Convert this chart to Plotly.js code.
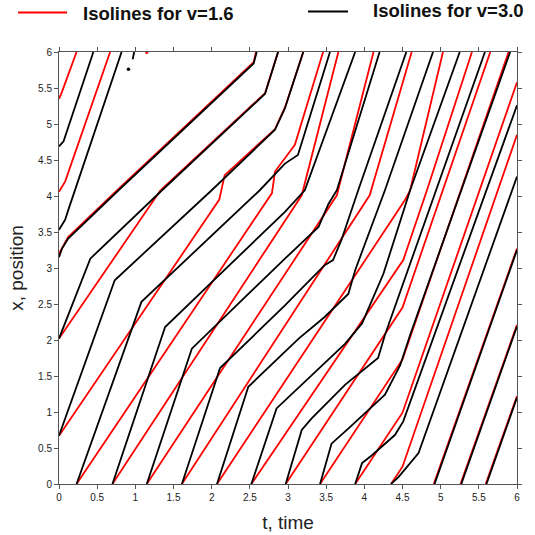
<!DOCTYPE html>
<html>
<head>
<meta charset="utf-8">
<script src="https://cdn.plot.ly/plotly-3.0.1.min.js"></script>
<style>html,body{margin:0;padding:0;background:#fff;}#chart{width:535px;height:535px;}</style>
</head>
<body>
<div id="chart"></div>
<script>
// ---- Legend / axis text ----
const redLabel = "Isolines for v=1.6";
const blackLabel = "Isolines for v=3.0";
const xTitle = "t, time";
const yTitle = "x, position";

// ---- Red isolines (v=1.6): t values and x values ----
const r1t = [0, 0.04, 0.23],                 r1x = [5.35, 5.45, 6.0];
const r2t = [0, 0.08, 0.67],                 r2x = [4.06, 4.2, 6.0];
const r3t = [0, 0.12, 0.78, 2.55, 2.58],     r3x = [3.2, 3.43, 4.1, 5.86, 6.0];
const r4t = [0, 1.33, 2.70, 2.87],           r4x = [2.02, 4.08, 5.43, 6.0];
const r5t = [0, 2.1, 2.17, 2.83, 2.96, 3.2], r5x = [0.67, 3.95, 4.29, 4.93, 5.23, 6.0];
const r6t = [0.23, 2.79, 2.83, 2.96, 3.09, 3.46], r6x = [0, 4.04, 4.34, 4.53, 4.71, 6.0];
const r7t = [0.70, 3.18, 3.66],              r7x = [0, 4.01, 6.0];
const r8t = [1.15, 3.64, 4.12],              r8x = [0, 4.01, 6.0];
const r9t = [1.61, 4.07, 4.62],              r9x = [0, 4.01, 6.0];
const r10t = [2.07, 4.53, 4.6, 5.03],        r10x = [0, 3.94, 4.08, 6.0];
const r11t = [2.52, 4.51, 4.82, 5.41],       r11x = [0, 3.11, 4.08, 6.0];
const r12t = [2.97, 4.5, 5.65],              r12x = [0, 2.45, 6.0];
const r13t = [3.42, 4.5, 5.89],              r13x = [0, 1.73, 6.0];
const r14t = [3.88, 4.5, 6.0],               r14x = [0, 0.99, 5.58];
const r15t = [4.35, 4.5, 6.0],               r15x = [0, 0.24, 4.85];
const r16t = [4.91, 6.0],                    r16x = [0, 3.27];
const r17t = [5.26, 6.0],                    r17x = [0, 2.21];
const r18t = [5.59, 6.0],                    r18x = [0, 1.22];
const rSpeckT = [1.13, 1.17],                rSpeckX = [5.985, 5.99];

// ---- Black isolines (v=3.0) ----
const k1t = [0, 0.06, 0.45],                 k1x = [4.69, 4.76, 6.0];
const k2t = [0, 0.08, 0.12, 0.21, 0.82],     k2x = [3.53, 3.67, 3.80, 4.08, 6.0];
const k3t = [0, 0.04, 0.12, 0.78, 2.55, 2.59], k3x = [3.15, 3.27, 3.41, 4.08, 5.84, 6.0];
const k4t = [0, 0.41, 1.35, 2.70, 2.87],     k4x = [2.02, 3.13, 4.08, 5.42, 6.0];
const k5t = [0, 0.73, 2.0, 2.83, 2.96, 3.2], k5x = [0.67, 2.83, 4.08, 4.92, 5.22, 6.0];
const k6t = [0.23, 1.08, 2.63, 2.96, 3.13, 3.55], k6x = [0, 2.53, 4.08, 4.45, 4.57, 6.0];
const k7t = [0.70, 1.39, 2.96, 3.22, 3.88],  k7x = [0, 2.18, 3.78, 4.08, 6.0];
const k8t = [1.15, 1.74, 2.96, 3.40, 3.53, 3.64, 4.20], k8x = [0, 1.88, 3.13, 3.57, 3.89, 4.08, 6.0];
const k9t = [1.61, 2.11, 2.96, 3.22, 3.48, 3.59, 3.70, 3.92, 4.55], k9x = [0, 1.61, 2.48, 2.76, 3.04, 3.11, 3.39, 4.08, 6.0];
const k10t = [2.07, 2.48, 3.14, 3.48, 3.79, 3.88, 4.27, 4.90], k10x = [0, 1.35, 2.02, 2.32, 2.64, 2.97, 4.08, 6.0];
const k11t = [2.52, 2.85, 3.75, 3.97, 4.25, 4.6, 5.25], k11x = [0, 1.05, 1.95, 2.23, 2.92, 4.08, 6.0];
const k12t = [2.97, 3.18, 3.31, 3.75, 4.18, 4.27, 5.58], k12x = [0, 0.75, 0.91, 1.38, 1.75, 2.07, 6.0];
const k13t = [3.42, 3.57, 3.79, 4.27, 4.47, 4.6, 5.91], k13x = [0, 0.56, 0.77, 1.24, 1.65, 2.07, 6.0];
const k14t = [3.88, 3.97, 4.1, 4.4, 4.51, 6.0], k14x = [0, 0.29, 0.40, 0.68, 0.87, 5.26];
const k15t = [4.35, 4.45, 4.71, 6.0],        k15x = [0, 0.10, 0.43, 4.27];
const k16t = [4.92, 6.0],                    k16x = [0, 3.25];
const k17t = [5.27, 6.0],                    k17x = [0, 2.19];
const k18t = [5.60, 6.0],                    k18x = [0, 1.20];
const kSpeckT = [0.965, 0.972, 0.985],       kSpeckX = [5.9, 5.96, 6.0];
const kDotT = [0.91],                        kDotX = [5.76];

const redLines = [
  [r1t, r1x], [r2t, r2x], [r3t, r3x], [r4t, r4x], [r5t, r5x], [r6t, r6x],
  [r7t, r7x], [r8t, r8x], [r9t, r9x], [r10t, r10x], [r11t, r11x], [r12t, r12x],
  [r13t, r13x], [r14t, r14x], [r15t, r15x], [r16t, r16x], [r17t, r17x], [r18t, r18x],
  [rSpeckT, rSpeckX]
];
const blackLines = [
  [k1t, k1x], [k2t, k2x], [k3t, k3x], [k4t, k4x], [k5t, k5x], [k6t, k6x],
  [k7t, k7x], [k8t, k8x], [k9t, k9x], [k10t, k10x], [k11t, k11x], [k12t, k12x],
  [k13t, k13x], [k14t, k14x], [k15t, k15x], [k16t, k16x], [k17t, k17x], [k18t, k18x],
  [kSpeckT, kSpeckX]
];

const traces = [];
redLines.forEach(function (p) {
  traces.push({type: 'scatter', mode: 'lines', x: p[0], y: p[1],
    line: {color: '#ff0000', width: 1.8}, name: redLabel, showlegend: false, hoverinfo: 'skip'});
});
blackLines.forEach(function (p) {
  traces.push({type: 'scatter', mode: 'lines', x: p[0], y: p[1],
    line: {color: '#000000', width: 1.8}, name: blackLabel, showlegend: false, hoverinfo: 'skip'});
});
traces.push({type: 'scatter', mode: 'markers', x: kDotT, y: kDotX,
  marker: {color: '#000', size: 3.5}, showlegend: false, hoverinfo: 'skip'});

const axisCommon = {
  range: [0, 6], dtick: 0.5, tick0: 0, ticks: 'outside', ticklen: 4, tickwidth: 1,
  tickcolor: '#555', showline: true, linecolor: '#555', linewidth: 1, mirror: 'ticks',
  showgrid: false, zeroline: false, fixedrange: true,
  tickfont: {family: 'Arial, "Liberation Sans", sans-serif', size: 10, color: '#222'}
};

const pl = 59, pr = 517, pt = 52, pb = 484;
function px2paperX(px) { return (px - pl) / (pr - pl); }
function px2paperY(py) { return (pb - py) / (pb - pt); }

const layout = {
  width: 535, height: 535,
  margin: {l: 59, r: 18, t: 52, b: 51, pad: 0},
  paper_bgcolor: '#ffffff', plot_bgcolor: '#ffffff',
  showlegend: false,
  xaxis: Object.assign({}, axisCommon, {
    title: {text: xTitle, standoff: 13,
      font: {family: 'Arial, "Liberation Sans", sans-serif', size: 19, color: '#222'}}
  }),
  yaxis: Object.assign({}, axisCommon, {
    title: {text: yTitle, standoff: 9,
      font: {family: 'Arial, "Liberation Sans", sans-serif', size: 19, color: '#222'}}
  }),
  shapes: [
    {type: 'line', xref: 'paper', yref: 'paper', x0: px2paperX(18), x1: px2paperX(67),
      y0: px2paperY(12.5), y1: px2paperY(12.5), line: {color: '#ff0000', width: 2}},
    {type: 'line', xref: 'paper', yref: 'paper', x0: px2paperX(308), x1: px2paperX(348),
      y0: px2paperY(11.5), y1: px2paperY(11.5), line: {color: '#000000', width: 2}}
  ],
  annotations: [
    {xref: 'paper', yref: 'paper', x: px2paperX(81), y: px2paperY(14), xanchor: 'left', yanchor: 'middle',
      showarrow: false, text: '<b>' + redLabel + '</b>',
      font: {family: 'Arial, "Liberation Sans", sans-serif', size: 18.5, color: '#111'}},
    {xref: 'paper', yref: 'paper', x: px2paperX(371), y: px2paperY(11), xanchor: 'left', yanchor: 'middle',
      showarrow: false, text: '<b>' + blackLabel + '</b>',
      font: {family: 'Arial, "Liberation Sans", sans-serif', size: 18.5, color: '#111'}}
  ]
};

Plotly.newPlot('chart', traces, layout, {displayModeBar: false, staticPlot: true});
</script>
</body>
</html>
